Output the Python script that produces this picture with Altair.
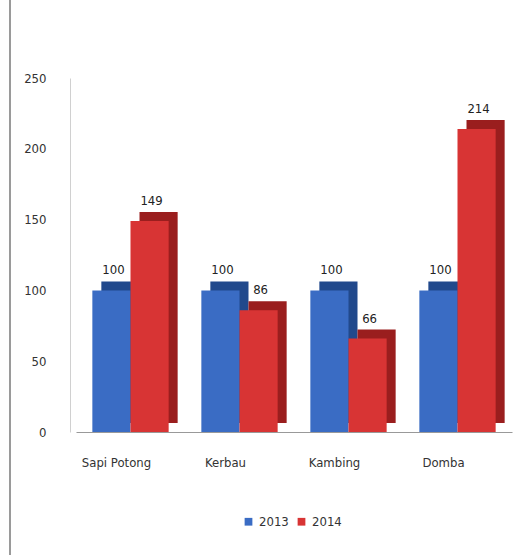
import altair as alt
import pandas as pd

categories = ["Sapi Potong", "Kerbau", "Kambing", "Domba"]
series = ["2013", "2014"]
values_2013 = [100, 100, 100, 100]
values_2014 = [149, 86, 66, 214]
y_ticks = [0, 50, 100, 150, 200, 250]

front_colors = ["#3a6cc4", "#d83434"]
side_colors = ["#21498c", "#9a1e1e"]
FONT = '"DejaVu Sans Condensed", "Liberation Sans Narrow", "Liberation Sans", sans-serif'

rows = []
for c, a, b in zip(categories, values_2013, values_2014):
    rows.append({"category": c, "series": series[0], "value": a})
    rows.append({"category": c, "series": series[1], "value": b})
df = pd.DataFrame(rows)

W, H = 436, 354
step = W / (4 - 0.3 + 0.3)
group = step * 0.7
depth = 9

x_enc = alt.X("category:N", sort=categories,
              scale=alt.Scale(domain=categories, paddingInner=0.3, paddingOuter=0.15),
              axis=alt.Axis(title=None, labelAngle=0, ticks=False, domainColor="#999999",
                            labelPadding=24, labelOffset=-14, labelFontSize=13,
                            labelColor="#333333", labelFont=FONT))
y_enc = alt.Y("value:Q", scale=alt.Scale(domain=[0, 250], nice=False),
              axis=alt.Axis(title=None, values=y_ticks, grid=False, ticks=False,
                            domainColor="#d0d0d0", offset=6, labelPadding=24,
                            labelFontSize=13, labelColor="#333333", labelFont=FONT))

base = alt.Chart(df)

side = base.mark_bar(yOffset=-depth, y2Offset=-depth).encode(
    x=x_enc,
    xOffset=alt.XOffset("series:N", sort=series,
                        scale=alt.Scale(domain=series, range=[depth, depth + group])),
    y=y_enc,
    color=alt.Color("series:N", scale=alt.Scale(domain=series, range=side_colors), legend=None),
)

front = base.mark_bar().encode(
    x=x_enc,
    xOffset=alt.XOffset("series:N", sort=series, scale=alt.Scale(domain=series)),
    y=y_enc,
    color=alt.Color("series:N", scale=alt.Scale(domain=series, range=front_colors),
                    legend=alt.Legend(title=None, orient="none", direction="horizontal",
                                      legendX=166, legendY=437, symbolType="square",
                                      symbolSize=60, labelFontSize=13, labelColor="#333333",
                                      labelFont=FONT, columnPadding=6)),
)

labels = base.mark_text(baseline="bottom", dy=-13, dx=2, fontSize=13, color="#222222",
                        font=FONT).encode(
    x=x_enc,
    xOffset=alt.XOffset("series:N", sort=series, scale=alt.Scale(domain=series)),
    y=y_enc,
    text=alt.Text("value:Q"),
)

border = alt.Chart(df).mark_rule(color="#9a9a9a", strokeWidth=1.5).encode(
    x=alt.value(-66), y=alt.value(-78), y2=alt.value(477)
)

chart = alt.layer(side, front, labels, border).resolve_scale(
    color="independent", xOffset="independent"
).properties(
    width=W, height=H,
    background="white",
    autosize=alt.AutoSizeParams(type="none"),
    padding={"left": 76, "top": 78, "right": 19, "bottom": 123},
).configure_view(strokeWidth=0, stroke="transparent")

chart.save("out.html", embed_options={"renderer": "svg", "actions": False})
